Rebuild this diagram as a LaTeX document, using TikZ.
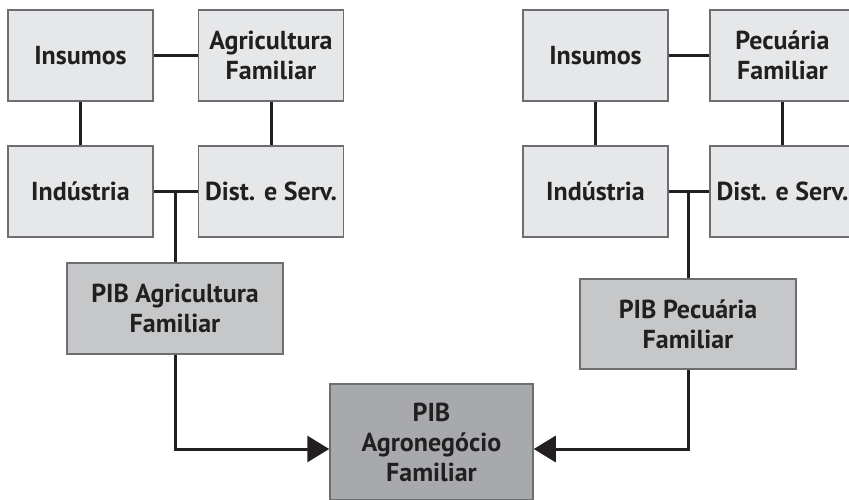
\documentclass[tikz,border=0pt]{standalone}
\usepackage{fontspec}
\setmainfont{PT Sans}
\usepackage{tikz}
\usetikzlibrary{
  positioning,
  arrows.meta
}
\usepackage{xcolor}
\definecolor{lite}{HTML}{E6E7E8}
\definecolor{mid}{HTML}{C6C7C9}
\definecolor{dark}{HTML}{A7A9AC}
\definecolor{edge}{HTML}{6D6E71}
\definecolor{ink}{HTML}{231F20}

\begin{document}
\begin{tikzpicture}[
  x=1pt, y=-1pt,
  box/.style={draw=edge, line width=1.5pt, minimum width=145pt, minimum height=91pt,
              align=center, inner sep=0pt, text=ink,
              font=\bfseries\fontsize{26}{30}\selectfont},
  link/.style={draw=ink, line width=3pt},
  feed/.style={link, -{Triangle[length=22pt, width=26pt]}}
]
  \useasboundingbox (0,0) rectangle (849,500);
  % agricultura
  \node[box, fill=lite] (insA) at (80.5, 55.5) {Insumos};
  \node[box, fill=lite] (agri) at (271, 55.5) {Agricultura\\Familiar};
  \node[box, fill=lite] (indA) at (80.5, 191.5) {Indústria};
  \node[box, fill=lite] (distA) at (271, 191.5) {Dist. e Serv.};
  \node[box, fill=mid, minimum width=216pt] (pibA) at (175, 308.5) {PIB Agricultura\\Familiar};
  % pecuaria
  \node[box, fill=lite] (insP) at (595.5, 55.5) {Insumos};
  \node[box, fill=lite] (pec) at (782.5, 55.5) {Pecuária\\Familiar};
  \node[box, fill=lite] (indP) at (595.5, 191.5) {Indústria};
  \node[box, fill=lite] (distP) at (782.5, 191.5) {Dist. e Serv.};
  \node[box, fill=mid, minimum width=216pt, minimum height=90pt] (pibP) at (688, 324) {PIB Pecuária\\Familiar};
  % total
  \node[box, fill=dark, minimum width=203pt, minimum height=116pt] (agro) at (431.5, 442) {PIB\\Agronegócio\\Familiar};

  \draw[link] (insA) -- (agri);
  \draw[link] (insA) -- (indA);
  \draw[link] (agri) -- (distA);
  \draw[link] (indA) -- (distA);
  \draw[link] (pibA.north) -- (pibA.north |- indA.east);

  \draw[link] (insP) -- (pec);
  \draw[link] (insP) -- (indP);
  \draw[link] (pec) -- (distP);
  \draw[link] (indP) -- (distP);
  \draw[link] (pibP.north) -- (pibP.north |- indP.east);

  \draw[feed] (pibA.south) |- ([yshift=-7pt]agro.west);
  \draw[feed] (pibP.south) |- ([yshift=-7pt]agro.east);
\end{tikzpicture}
\end{document}
